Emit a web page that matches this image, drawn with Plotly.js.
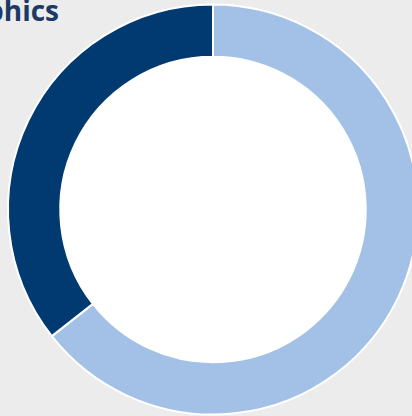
<!DOCTYPE html>
<html>
<head>
<meta charset="utf-8">
<script src="https://cdn.plot.ly/plotly-3.0.1.min.js"></script>
<style>
html,body{margin:0;padding:0;background:#ececec;overflow:hidden;width:412px;height:416px;}
#chart{width:426px;height:416px;}
</style>
</head>
<body>
<div id="chart"></div>
<script>
const categories = ["Group A", "Group B"];
const values = [64.4, 35.6];
const colors = ["#a3c0e6", "#003a70"];
const titleText = "Demographics";

const W = 426, H = 416;
const holeRatio = 0.745;
const outerR = 205, cx = 213, cy = 206.5;
const innerR = outerR * holeRatio;
const data = [{
  type: "pie",
  labels: categories,
  values: values,
  hole: holeRatio,
  sort: false,
  direction: "clockwise",
  rotation: 0,
  textinfo: "none",
  hoverinfo: "none",
  marker: {colors: colors, line: {color: "#ffffff", width: 2}},
  domain: {x: [(cx - outerR) / W, (cx + outerR) / W], y: [(cy - outerR) / H, (cy + outerR) / H]}
}, {
  type: "pie",
  labels: ["hole"],
  values: [1],
  sort: false,
  textinfo: "none",
  hoverinfo: "none",
  marker: {colors: ["#ffffff"], line: {color: "#ffffff", width: 0}},
  domain: {x: [(cx - innerR) / W, (cx + innerR) / W], y: [(cy - innerR) / H, (cy + innerR) / H]}
}];
const layout = {
  width: W, height: H,
  margin: {l: 0, r: 0, t: 0, b: 0},
  paper_bgcolor: "#ececec",
  plot_bgcolor: "#ececec",
  showlegend: false,
  title: {
    text: "<b>" + titleText + "</b>",
    font: {family: "Open Sans", size: 28, color: "#1c3a66"},
    xref: "container", x: 59 / W, xanchor: "right",
    yref: "container", y: 1 - 1 / H, yanchor: "top",
    pad: {t: 0, l: 0, r: 0, b: 0}
  }
};
Plotly.newPlot("chart", data, layout, {displayModeBar: false, staticPlot: true});
</script>
</body>
</html>
